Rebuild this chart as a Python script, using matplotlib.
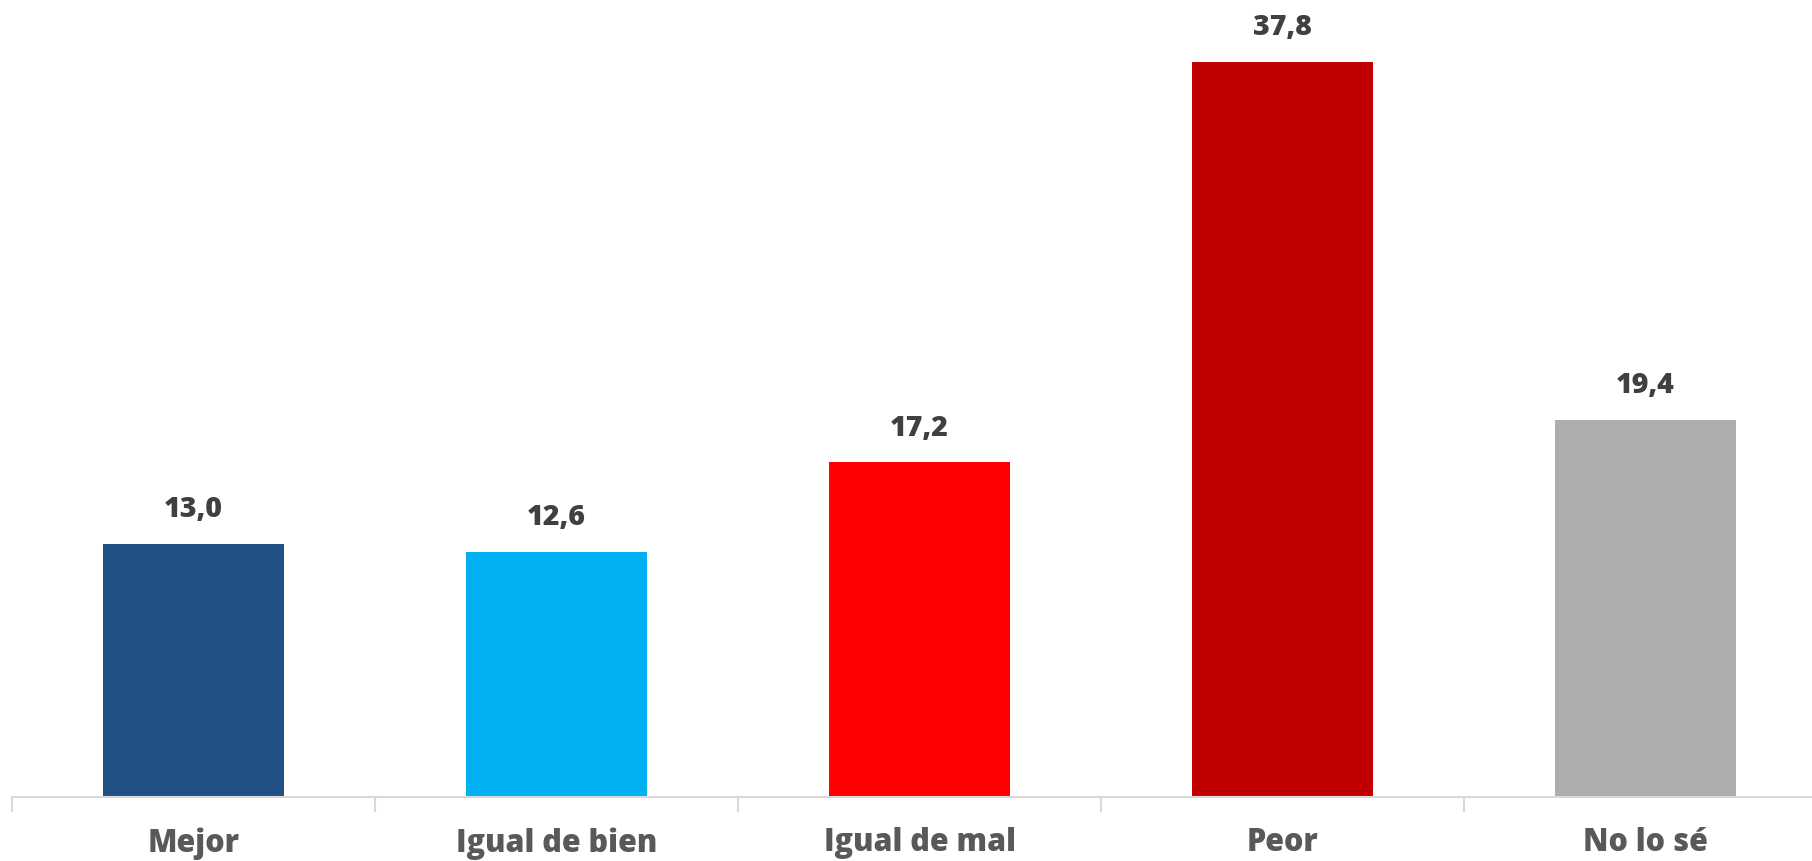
import matplotlib
matplotlib.use("Agg")
import matplotlib.pyplot as plt

categories = ['Mejor', 'Igual de bien', 'Igual de mal', 'Peor', 'No lo sé']
values = [13.0, 12.6, 17.2, 37.8, 19.4]
labels = ['13,0', '12,6', '17,2', '37,8', '19,4']
colors = ['#215086', '#00B0F0', '#FF0000', '#C00000', '#ADADAC']

plt.rcParams['font.family'] = ['Open Sans', 'DejaVu Sans']

fig = plt.figure(figsize=(18.12, 8.62), dpi=100)
ax = fig.add_axes([12/1812, 64/862, 1815/1812, 778/862])

x = range(len(categories))
bars = ax.bar(x, values, width=0.50, color=colors)

for b, lab in zip(bars, labels):
    ax.annotate(lab, (b.get_x() + b.get_width()/2, b.get_height()),
                xytext=(0, 15), textcoords='offset points', ha='center', va='bottom',
                fontsize=20.5, fontweight='heavy', color='#404040')

ax.set_xlim(-0.5, len(categories) - 0.5)
ax.set_ylim(0, 40)
ax.set_yticks([])
ax.set_xticks(x)
ax.set_xticklabels(categories, fontsize=22, fontweight='heavy', color='#595959')
ax.set_xticks([i - 0.5 for i in range(len(categories) + 1)], minor=True)
ax.tick_params(axis='x', which='major', length=0, pad=21)
ax.tick_params(axis='x', which='minor', length=11, width=1.5, color='#D9D9D9')

for s in ['top', 'right', 'left']:
    ax.spines[s].set_visible(False)
ax.spines['bottom'].set_color('#D9D9D9')
ax.spines['bottom'].set_linewidth(1.5)

fig.savefig('out.png', dpi=100)
